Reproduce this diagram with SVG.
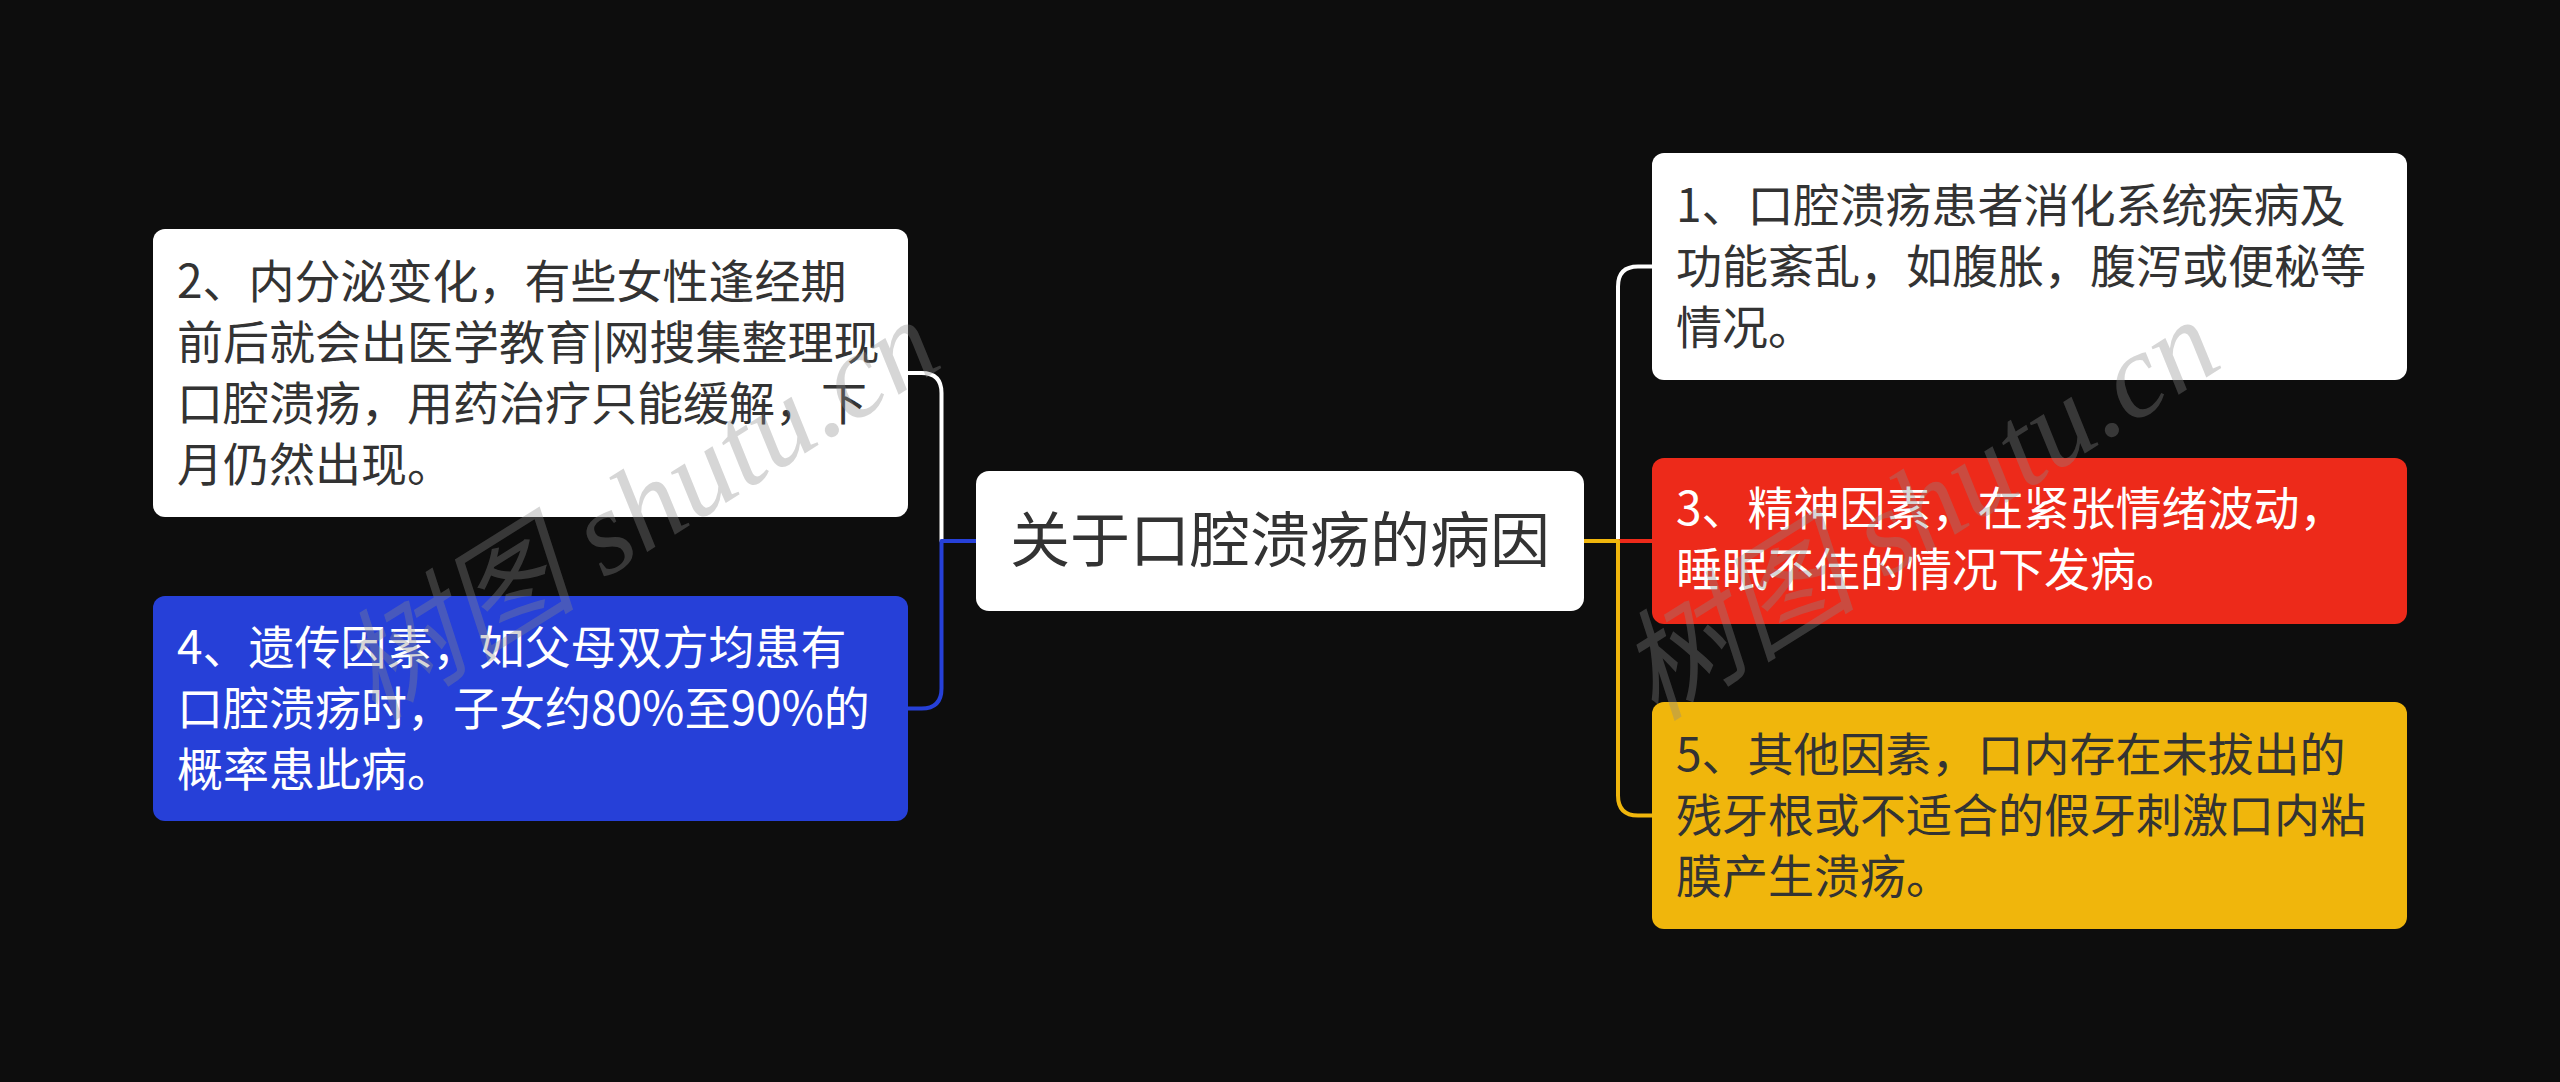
<svg xmlns="http://www.w3.org/2000/svg" width="2560" height="1082" viewBox="0 0 2560 1082">
  <style>
    .t { font-family: "Noto Sans CJK SC", "Noto Sans", sans-serif; font-size: 46px; }
    .dark { fill: #333333; }
    .light { fill: #ffffff; }
    .conn { fill: none; stroke-width: 4; stroke-linecap: butt; stroke-linejoin: round; }
    .wm { font-family: "Liberation Serif", "Noto Sans CJK SC", serif; font-style: italic; font-size: 120px; fill: #8a8a8a; fill-opacity: 0.35; }
  </style>
  <rect x="0" y="0" width="2560" height="1082" fill="#0d0d0d"/>

  <g id="connectors">
    <path class="conn" stroke="#ffffff" d="M976 541 H941.5 V393 Q941.5 373 921.5 373 H908"/>
    <path class="conn" stroke="#2640d8" d="M976 541 H941.5 V688.5 Q941.5 708.5 921.5 708.5 H908"/>
    <path class="conn" stroke="#ffffff" d="M1584 541 H1618 V286.5 Q1618 266.5 1638 266.5 H1652"/>
    <path class="conn" stroke="#ed2a1a" d="M1584 541 H1652"/>
    <path class="conn" stroke="#f0b60c" d="M1584 541 H1618 V795.5 Q1618 815.5 1638 815.5 H1652"/>
  </g>

  <g id="center">
    <rect x="976" y="471" width="608" height="140" rx="13" fill="#ffffff"/>
    <text x="1280" y="562" text-anchor="middle" font-family="Noto Sans CJK SC, sans-serif" font-size="60" fill="#333333">关于口腔溃疡的病因</text>
  </g>

  <g id="node2">
    <rect x="153" y="229" width="755" height="288" rx="12" fill="#ffffff"/>
    <text class="t dark">
      <tspan x="177" y="297.5">2、内分泌变化，有些女性逢经期</tspan>
      <tspan x="177" y="358.5">前后就会出医学教育|网搜集整理现</tspan>
      <tspan x="177" y="419.5">口腔溃疡，用药治疗只能缓解，下</tspan>
      <tspan x="177" y="480.5">月仍然出现。</tspan>
    </text>
  </g>

  <g id="node4">
    <rect x="153" y="596" width="755" height="225" rx="12" fill="#2640d8"/>
    <text class="t light">
      <tspan x="177" y="663.5">4、遗传因素，如父母双方均患有</tspan>
      <tspan x="177" y="724.5">口腔溃疡时，子女约80%至90%的</tspan>
      <tspan x="177" y="785.5">概率患此病。</tspan>
    </text>
  </g>

  <g id="node1">
    <rect x="1652" y="153" width="755" height="227" rx="12" fill="#ffffff"/>
    <text class="t dark">
      <tspan x="1676" y="221.5">1、口腔溃疡患者消化系统疾病及</tspan>
      <tspan x="1676" y="282.5">功能紊乱，如腹胀，腹泻或便秘等</tspan>
      <tspan x="1676" y="343.5">情况。</tspan>
    </text>
  </g>

  <g id="node3">
    <rect x="1652" y="458" width="755" height="166" rx="12" fill="#ed2a1a"/>
    <text class="t light">
      <tspan x="1676" y="525">3、精神因素，在紧张情绪波动，</tspan>
      <tspan x="1676" y="586">睡眠不佳的情况下发病。</tspan>
    </text>
  </g>

  <g id="node5">
    <rect x="1652" y="702" width="755" height="227" rx="12" fill="#f0b60c"/>
    <text class="t dark">
      <tspan x="1676" y="770.5">5、其他因素，口内存在未拔出的</tspan>
      <tspan x="1676" y="831.5">残牙根或不适合的假牙刺激口内粘</tspan>
      <tspan x="1676" y="892.5">膜产生溃疡。</tspan>
    </text>
  </g>

  <g id="watermark">
    <text class="wm" transform="translate(375 722) rotate(-32)">树图 shutu.cn</text>
    <text class="wm" transform="translate(1655 722) rotate(-32)">树图 shutu.cn</text>
  </g>
</svg>
